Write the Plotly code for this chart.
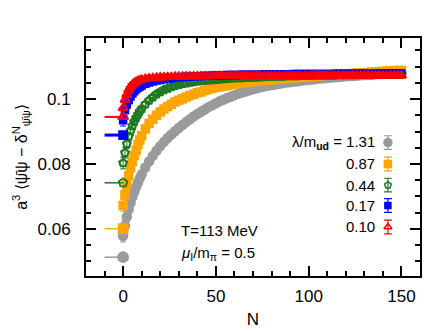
import plotly.graph_objects as go

# Lattice steps N (every step up to 10, then every second step)
N_VALUES = list(range(0, 11)) + list(range(12, 151, 2))

# lambda/m_ud = 1.31
GRAY_Y = [0.0578, 0.0610, 0.0637, 0.0660, 0.0680, 0.0698, 0.0714, 0.0729, 0.0743, 0.0756, 0.0768,
          0.0789, 0.0808, 0.0825, 0.0841, 0.0855, 0.0868, 0.0880, 0.0891, 0.0901, 0.0911,
          0.0920, 0.0929, 0.0938, 0.0946, 0.0954, 0.0961, 0.0968, 0.0975, 0.0981, 0.0987,
          0.0993, 0.0998, 0.1003, 0.1007, 0.1012, 0.1016, 0.1020, 0.1023, 0.1027, 0.1030,
          0.1033, 0.1036, 0.1039, 0.1041, 0.1043, 0.1045, 0.1047, 0.1049, 0.1051, 0.1052,
          0.1054, 0.1055, 0.1057, 0.1058, 0.1059, 0.1060, 0.1062, 0.1063, 0.1064, 0.1065,
          0.1066, 0.1067, 0.1068, 0.1069, 0.1070, 0.1071, 0.1071, 0.1072, 0.1073, 0.1074,
          0.1074, 0.1075, 0.1076, 0.1077, 0.1077, 0.1078, 0.1078, 0.1079, 0.1079, 0.1080]
# 0.87
ORANGE_Y = [0.0672, 0.0705, 0.0736, 0.0764, 0.0788, 0.0808, 0.0826, 0.0842, 0.0860, 0.0874, 0.0887,
            0.0908, 0.0925, 0.0938, 0.0950, 0.0960, 0.0969, 0.0977, 0.0984, 0.0991, 0.0996,
            0.1001, 0.1006, 0.1011, 0.1015, 0.1019, 0.1022, 0.1026, 0.1030, 0.1033, 0.1036,
            0.1038, 0.1040, 0.1042, 0.1044, 0.1046, 0.1048, 0.1050, 0.1051, 0.1053, 0.1054,
            0.1055, 0.1056, 0.1057, 0.1058, 0.1059, 0.1060, 0.1061, 0.1062, 0.1063, 0.1064,
            0.1065, 0.1066, 0.1067, 0.1068, 0.1069, 0.1070, 0.1071, 0.1072, 0.1073, 0.1074,
            0.1074, 0.1075, 0.1076, 0.1077, 0.1077, 0.1078, 0.1079, 0.1080, 0.1080, 0.1081,
            0.1082, 0.1083, 0.1083, 0.1084, 0.1085, 0.1086, 0.1086, 0.1087, 0.1088, 0.1088]
# 0.44
GREEN_Y = [0.0803, 0.0834, 0.0862, 0.0884, 0.0902, 0.0917, 0.0930, 0.0942, 0.0953, 0.0962, 0.0970,
           0.0984, 0.0996, 0.1006, 0.1015, 0.1022, 0.1028, 0.1033, 0.1037, 0.1041, 0.1044,
           0.1047, 0.1049, 0.1051, 0.1053, 0.1055, 0.1056, 0.1057, 0.1058, 0.1059, 0.1060,
           0.1061, 0.1062, 0.1063, 0.1064, 0.1064, 0.1065, 0.1065, 0.1066, 0.1066, 0.1067,
           0.1067, 0.1068, 0.1068, 0.1069, 0.1069, 0.1070, 0.1070, 0.1070, 0.1071, 0.1071,
           0.1071, 0.1071, 0.1072, 0.1072, 0.1072, 0.1072, 0.1073, 0.1073, 0.1073, 0.1073,
           0.1073, 0.1073, 0.1074, 0.1074, 0.1074, 0.1074, 0.1074, 0.1074, 0.1075, 0.1075,
           0.1075, 0.1075, 0.1075, 0.1075, 0.1075, 0.1075, 0.1076, 0.1076, 0.1076, 0.1076]
# 0.17
BLUE_Y = [0.0935, 0.0966, 0.0983, 0.0997, 0.1008, 0.1017, 0.1024, 0.1030, 0.1035, 0.1039, 0.1042,
          0.1047, 0.1051, 0.1054, 0.1057, 0.1059, 0.1061, 0.1063, 0.1064, 0.1066, 0.1067,
          0.1068, 0.1069, 0.1069, 0.1070, 0.1070, 0.1071, 0.1071, 0.1072, 0.1072, 0.1073,
          0.1073, 0.1073, 0.1074, 0.1074, 0.1074, 0.1074, 0.1075, 0.1075, 0.1075, 0.1075,
          0.1075, 0.1075, 0.1076, 0.1076, 0.1076, 0.1076, 0.1076, 0.1076, 0.1076, 0.1076,
          0.1077, 0.1077, 0.1077, 0.1077, 0.1077, 0.1077, 0.1077, 0.1077, 0.1077, 0.1077,
          0.1077, 0.1078, 0.1078, 0.1078, 0.1078, 0.1078, 0.1078, 0.1078, 0.1078, 0.1078,
          0.1078, 0.1078, 0.1078, 0.1079, 0.1079, 0.1079, 0.1079, 0.1079, 0.1079, 0.1079]
# 0.10
RED_Y = [0.0972, 0.0997, 0.1013, 0.1027, 0.1037, 0.1044, 0.1049, 0.1053, 0.1056, 0.1058, 0.1060,
         0.1062, 0.1064, 0.1065, 0.1066, 0.1067, 0.1067, 0.1068, 0.1068, 0.1069, 0.1069,
         0.1069, 0.1070, 0.1070, 0.1070, 0.1070, 0.1070, 0.1070, 0.1070, 0.1070, 0.1071,
         0.1071, 0.1071, 0.1071, 0.1071, 0.1071, 0.1071, 0.1071, 0.1071, 0.1071, 0.1071,
         0.1071, 0.1071, 0.1071, 0.1071, 0.1071, 0.1071, 0.1071, 0.1071, 0.1071, 0.1071,
         0.1071, 0.1071, 0.1071, 0.1071, 0.1071, 0.1072, 0.1072, 0.1072, 0.1072, 0.1072,
         0.1072, 0.1072, 0.1072, 0.1072, 0.1072, 0.1072, 0.1072, 0.1072, 0.1072, 0.1072,
         0.1072, 0.1072, 0.1072, 0.1072, 0.1072, 0.1072, 0.1072, 0.1072, 0.1072, 0.1072]

# statistical errors (shrinking with N)
ERR = [0.0018, 0.0016, 0.0014, 0.0012, 0.0011, 0.0010, 0.0009, 0.0008, 0.0008, 0.0007, 0.0007,
       0.0006, 0.0005, 0.0005, 0.0005, 0.0004, 0.0004, 0.0004, 0.0004, 0.0004, 0.0003,
       0.0003, 0.0003, 0.0003, 0.0003, 0.0003, 0.0003, 0.0003, 0.0003, 0.0003, 0.0003,
       0.0003, 0.0003, 0.0003, 0.0003, 0.0003, 0.0003, 0.0003, 0.0003, 0.0003, 0.0003,
       0.0003, 0.0003, 0.0003, 0.0003, 0.0003, 0.0003, 0.0003, 0.0003, 0.0003, 0.0003,
       0.0003, 0.0003, 0.0003, 0.0003, 0.0003, 0.0003, 0.0003, 0.0003, 0.0003, 0.0003,
       0.0003, 0.0003, 0.0003, 0.0003, 0.0003, 0.0003, 0.0003, 0.0003, 0.0003, 0.0003,
       0.0003, 0.0003, 0.0003, 0.0003, 0.0003, 0.0003, 0.0003, 0.0003, 0.0003, 0.0003]

# reference values at N=0, drawn with a short bar to the left
EXTRAP_N = [-10, 0]
LAMBDA_LABELS = ["1.31", "0.87", "0.44", "0.17", "0.10"]
EXTRAP_Y = [0.0513, 0.0601, 0.0742, 0.0889, 0.0945]

# legend key positions (data coords)
KEY_N = 142.7
KEY_Y = [0.0866, 0.0800, 0.0735, 0.0672, 0.0606]
KEY_ERR = 0.0021

SERIES = [
    (GRAY_Y, "#9a9a9a", "circle", 9, 1.5),
    (ORANGE_Y, "#ffa500", "square", 8, 1.5),
    (GREEN_Y, "#1f7a1f", "pentagon-open", 8, 1.5),
    (BLUE_Y, "#0000ff", "square", 7, 3),
    (RED_Y, "#ff0000", "triangle-up-open", 8, 2),
]

for ys in (GRAY_Y, ORANGE_Y, GREEN_Y, BLUE_Y, RED_Y, ERR):
    assert len(ys) == len(N_VALUES)

FONT = "Liberation Sans, Arial, sans-serif"

fig = go.Figure()

for i, (ys, color, symbol, size, lw) in enumerate(SERIES):
    edge = 2.2 if symbol.endswith("open") else 1.5
    fig.add_trace(go.Scatter(
        x=EXTRAP_N, y=[EXTRAP_Y[i], EXTRAP_Y[i]], mode="lines",
        line=dict(color=color, width=lw), showlegend=False,
    ))
    fig.add_trace(go.Scatter(
        x=[0], y=[EXTRAP_Y[i]], mode="markers",
        marker=dict(color=color, symbol=symbol, size=size + 1,
                    line=dict(color=color, width=1.8)),
        showlegend=False,
    ))
    fig.add_trace(go.Scatter(
        x=N_VALUES, y=ys, mode="markers",
        marker=dict(color=color, symbol=symbol, size=size,
                    line=dict(color=color, width=edge)),
        error_y=dict(type="data", array=ERR, color=color, thickness=1, width=3),
        showlegend=False,
    ))
    # legend key
    fig.add_trace(go.Scatter(
        x=[KEY_N], y=[KEY_Y[i]], mode="markers",
        marker=dict(color=color, symbol=symbol, size=size - 1,
                    line=dict(color=color, width=1.5)),
        error_y=dict(type="constant", value=KEY_ERR, color=color, thickness=1.2, width=4),
        showlegend=False,
    ))
    label = LAMBDA_LABELS[i]
    if i == 0:
        label = "λ/m<sub><b>ud</b></sub> = " + label
    fig.add_annotation(
        x=KEY_N - 6, y=KEY_Y[i], xref="x", yref="y", text=label,
        showarrow=False, xanchor="right", yanchor="middle",
        font=dict(size=15, color="black", family=FONT),
    )

fig.add_annotation(x=0.278, y=0.19, xref="paper", yref="paper", text="T=113 MeV",
                   showarrow=False, xanchor="left", yanchor="middle",
                   font=dict(size=15, color="black", family=FONT))
fig.add_annotation(x=0.278, y=0.095, xref="paper", yref="paper",
                   text="<i>μ</i><sub>I</sub>/m<sub>π</sub> = 0.5",
                   showarrow=False, xanchor="left", yanchor="middle",
                   font=dict(size=15, color="black", family=FONT))

axis_common = dict(
    showline=True, linecolor="black", linewidth=2, mirror="allticks",
    ticks="inside", ticklen=10, tickwidth=1.5, tickcolor="black",
    showgrid=False, zeroline=False,
    tickfont=dict(size=17, color="black", family=FONT),
)

fig.update_xaxes(
    range=[-20, 160], dtick=50, tick0=0,
    minor=dict(ticks="inside", ticklen=5, tickwidth=1.5, dtick=10, tickcolor="black"),
    title=dict(text="N", font=dict(size=17, color="black", family=FONT), standoff=8),
    ticklabelstandoff=4,
    **axis_common,
)
fig.update_yaxes(
    range=[0.0455, 0.1188], dtick=0.02, tick0=0,
    minor=dict(ticks="inside", ticklen=5, tickwidth=1.5, dtick=0.005, tickcolor="black"),
    title=dict(text="a<sup>3</sup> ⟨ψ̄ψ − δ<sup>N</sup><sub>ψ̄ψ</sub>⟩",
               font=dict(size=16, color="black", family=FONT), standoff=6),
    ticklabelstandoff=10,
    **axis_common,
)

fig.update_layout(
    width=436, height=331,
    margin=dict(l=74, r=24, t=30, b=63),
    plot_bgcolor="white", paper_bgcolor="white",
    showlegend=False,
)

fig.write_html("out.html")
